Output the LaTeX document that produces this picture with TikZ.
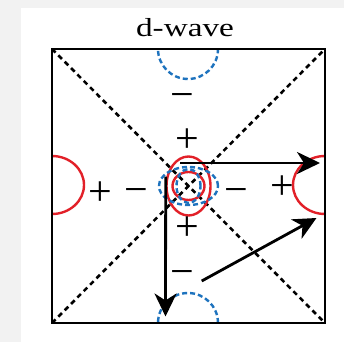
\documentclass[tikz,border=0pt]{standalone}
\usepackage{fontspec}
\setmainfont{Liberation Serif}
\usetikzlibrary{arrows.meta}
\definecolor{pocketred}{RGB}{226,32,40}
\definecolor{pocketblue}{RGB}{30,115,190}
\definecolor{bggray}{RGB}{242,242,242}
\begin{document}
\begin{tikzpicture}[x=1pt,y=1pt,
  frame/.style={line width=2.6pt},
  nodal/.style={line width=2.6pt, dash pattern=on 5pt off 4pt},
  possurf/.style={draw=pocketred, line width=2.4pt},
  negsurf/.style={draw=pocketblue, line width=2.4pt, dash pattern=on 5pt off 3pt},
  sign/.style={font=\fontsize{42}{42}\selectfont, inner sep=0pt, anchor=base},
  vec/.style={line width=2.8pt, -{Stealth[length=23pt,width=22pt,inset=7pt]}}]
\useasboundingbox (0,0) rectangle (344,342);
\fill[bggray] (0,0) rectangle (344,342);
\fill[white] (21,0) rectangle (344,334);
\coordinate (bl) at (52,19);
\coordinate (tr) at (325,293);
\coordinate (tl) at (52,293);
\coordinate (br) at (325,19);
\coordinate (O) at (188.5,156);
\node[anchor=base, inner sep=0pt] (title) at (185,305) {\scalebox{1.28}[1]{\fontsize{26}{30}\selectfont d-wave}};
% edge pockets
\begin{scope}
  \clip (bl) rectangle (tr);
  \draw[possurf] (52,157) ellipse[x radius=32, y radius=29];
  \draw[possurf] (325,157) ellipse[x radius=32, y radius=29];
  \draw[negsurf] (188,293) circle[radius=30];
  \draw[negsurf] (188,19) circle[radius=30];
\end{scope}
% nodal lines
\draw[nodal] (tl) -- (br);
\draw[nodal] (bl) -- (tr);
% central pockets
\draw[possurf] (O) ellipse[x radius=22, y radius=29.5];
\draw[negsurf] (O) ellipse[x radius=29.5, y radius=19];
\draw[possurf] (O) ellipse[x radius=16, y radius=14];
\draw[negsurf] (O) ellipse[x radius=12, y radius=17];
% frame
\draw[frame] (bl) rectangle (tr);
% signs
\node[sign] (s1) at (182,233.3) {\char"2212};
\node[sign] (s2) at (187,189) {+};
\node[sign] (s3) at (187,101) {+};
\node[sign] (s4) at (182,57) {\char"2212};
\node[sign] (s5) at (100,136.5) {+};
\node[sign] (s6) at (136,138.3) {\char"2212};
\node[sign] (s7) at (236,138.3) {\char"2212};
\node[sign] (s8) at (282,142) {+};
% vectors
\coordinate (a1s) at (180,179);
\coordinate (a1e) at (320,179);
\coordinate (a2s) at (165.7,165.3);
\coordinate (a2e) at (165.5,25.5);
\coordinate (a3s) at (201.7,61);
\coordinate (a3e) at (316.5,124);
\draw[vec] (a1s) -- (a1e);
\draw[vec] (a2s) -- (a2e);
\draw[vec] (a3s) -- (a3e);
\end{tikzpicture}
\end{document}
